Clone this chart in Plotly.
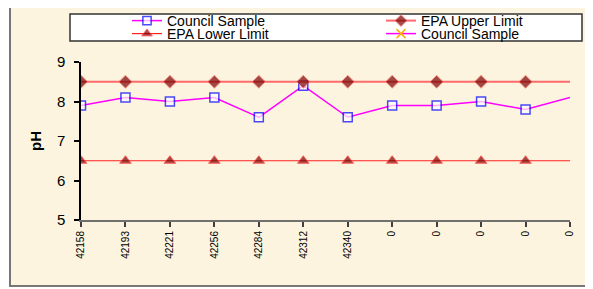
import plotly.graph_objects as go

# ---- data ----
tick_labels = ["42158", "42193", "42221", "42256", "42284", "42312", "42340", "0", "0", "0", "0", "0"]
council_sample = [7.9, 8.1, 8.0, 8.1, 7.6, 8.4, 7.6, 7.9, 7.9, 8.0, 7.8, 8.1]
epa_upper = [8.5] * 12
epa_lower = [6.5] * 12
council_sample_2 = [None] * 12
y_ticks = [5, 6, 7, 8, 9]

x_idx = list(range(len(tick_labels)))

# page has an 8px body margin; work in window pixels and convert
OFF = 8
W, H = 593 - OFF, 289 - OFF
L, R, T, B = 81 - OFF, 570 - OFF, 62 - OFF, 220 - OFF


def px2x(p):
    return (p - OFF - L) / (R - L)


def py2y(p):
    return (B - (p - OFF)) / (B - T)


FONT = "Liberation Sans, Arial, sans-serif"
marker_sizes = [9] * 11 + [0]
big_sizes = [10] * 11 + [0]

fig = go.Figure()
fig.add_trace(go.Scatter(
    x=x_idx, y=council_sample, name="Council Sample", mode="lines+markers",
    line=dict(color="#FF00FF", width=1.5),
    marker=dict(symbol="square", size=marker_sizes, color="white",
                line=dict(color="#0000FF", width=1.5)),
    legend="legend"))
fig.add_trace(go.Scatter(
    x=x_idx, y=epa_upper, name="EPA Upper Limit", mode="lines+markers",
    line=dict(color="#FF6A6A", width=2),
    marker=dict(symbol="diamond", size=big_sizes, color="#7A0000"),
    legend="legend2"))
fig.add_trace(go.Scatter(
    x=x_idx, y=epa_lower, name="EPA Lower Limit", mode="lines+markers",
    line=dict(color="#FF2020", width=1.2),
    marker=dict(symbol="triangle-up", size=big_sizes, color="#7A0000"),
    legend="legend3"))
fig.add_trace(go.Scatter(
    x=x_idx, y=council_sample_2, name="Council Sample", mode="lines+markers",
    line=dict(color="#FF00FF", width=1.5),
    marker=dict(symbol="x-thin-open", size=9, color="#FFB000",
                line=dict(color="#FFB000", width=1.5)),
    legend="legend4"))

leg_common = dict(orientation="h", xanchor="left", yanchor="middle",
                  bgcolor="rgba(0,0,0,0)", borderwidth=0,
                  font=dict(family=FONT, size=14, color="#000000"))

fig.update_layout(
    width=W, height=H,
    margin=dict(l=L, r=W - R, t=T, b=H - B, autoexpand=False),
    paper_bgcolor="white",
    plot_bgcolor="rgba(0,0,0,0)",
    font=dict(family=FONT, color="#000000"),
    showlegend=True,
    legend=dict(x=px2x(127), y=py2y(21), **leg_common),
    legend2=dict(x=px2x(381), y=py2y(21), **leg_common),
    legend3=dict(x=px2x(127), y=py2y(34), **leg_common),
    legend4=dict(x=px2x(381), y=py2y(34), **leg_common),
    xaxis=dict(
        range=[0, len(tick_labels) - 1],
        tickmode="array", tickvals=x_idx, ticktext=tick_labels,
        tickangle=-90, tickfont=dict(size=10, family=FONT, color="#000000"),
        showgrid=False, zeroline=False,
        showline=True, linecolor="#707070", linewidth=2,
        ticks="outside", ticklen=5, tickcolor="#404040", tickwidth=1.5,
    ),
    xaxis2=dict(
        overlaying="x", matches="x", range=[0, len(tick_labels) - 1],
        tickmode="array", tickvals=x_idx, showticklabels=False,
        showgrid=False, zeroline=False, showline=False,
        ticks="inside", ticklen=4, tickcolor="#404040", tickwidth=1.5,
    ),
    yaxis=dict(
        range=[5, 9], tickvals=y_ticks,
        tickfont=dict(size=15, family=FONT, color="#000000"),
        showgrid=False, zeroline=False,
        showline=True, linecolor="#000000", linewidth=1.5,
        ticks="outside", ticklen=5, tickcolor="#000000", tickwidth=1.5,
        ticklabelstandoff=6,
        title=dict(text="<b>pH</b>", font=dict(size=15, family=FONT), standoff=12),
    ),
    yaxis2=dict(
        overlaying="y", matches="y", range=[5, 9], tickvals=y_ticks,
        showticklabels=False, showgrid=False, zeroline=False, showline=False,
        ticks="inside", ticklen=4, tickcolor="#000000", tickwidth=1.5,
    ),
    shapes=[
        dict(type="rect", xref="paper", yref="paper", layer="below",
             x0=px2x(10), x1=px2x(588), y0=py2y(286), y1=py2y(4),
             fillcolor="#FCF4DF", line=dict(color="#777777", width=2)),
        dict(type="rect", xref="paper", yref="paper", layer="below",
             x0=px2x(70), x1=px2x(582), y0=py2y(41), y1=py2y(14),
             fillcolor="white", line=dict(color="#333333", width=1.5)),
    ],
)

fig.write_html("out.html")
